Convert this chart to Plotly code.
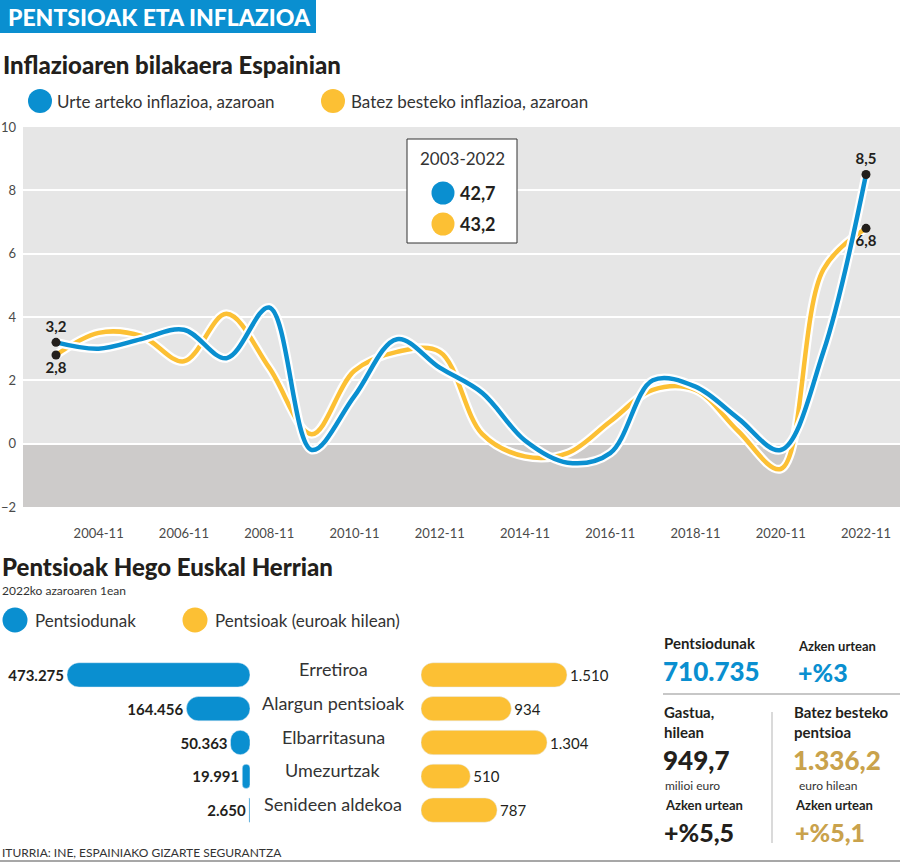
import plotly.graph_objects as go

W, H = 900, 862
BLUE = "#0a8fd0"
YELLOW = "#fcc034"
DARK = "#231f1c"
GOLD = "#c9a24c"
FONT = "Lato"

# ---------------- data ----------------
years = list(range(2003, 2023))
urte_arteko = [3.2, 3.0, 3.3, 3.6, 2.7, 4.3, -0.2, 1.5, 3.3, 2.4,
               1.6, 0.1, -0.6, -0.3, 2.0, 1.8, 0.8, -0.2, 2.9, 8.5]
batez_besteko = [2.8, 3.5, 3.4, 2.6, 4.1, 2.4, 0.3, 2.3, 2.9, 2.9,
                 0.3, -0.4, -0.3, 0.7, 1.7, 1.7, 0.4, -0.8, 5.5, 6.8]
tick_years = list(range(2004, 2023, 2))
tick_labels = [f"{y}-11" for y in tick_years]
inset_title = "2003-2022"
inset_values = ["42,7", "43,2"]

categories = ["Erretiroa", "Alargun pentsioak", "Elbarritasuna", "Umezurtzak", "Senideen aldekoa"]
pentsiodunak = [473275, 164456, 50363, 19991, 2650]
pentsiodunak_lbl = ["473.275", "164.456", "50.363", "19.991", "2.650"]
pentsioak = [1510, 934, 1304, 510, 787]
pentsioak_lbl = ["1.510", "934", "1.304", "510", "787"]


def px(x):
    return x / W


def py(y):
    return 1 - y / H


fig = go.Figure()

# ---------------- line chart ----------------
for ys, col in [(batez_besteko, YELLOW), (urte_arteko, BLUE)]:
    fig.add_trace(go.Scatter(x=years, y=ys, mode="lines", line=dict(color="white", width=9, shape="spline", smoothing=1.0),
                             hoverinfo="skip", showlegend=False))
    fig.add_trace(go.Scatter(x=years, y=ys, mode="lines", line=dict(color=col, width=4.5, shape="spline", smoothing=1.0),
                             showlegend=False))

# endpoint dots with labels
end_x = [years[0], years[0], years[-1], years[-1]]
end_y = [urte_arteko[0], batez_besteko[0], urte_arteko[-1], batez_besteko[-1]]
end_t = [f"{v:.1f}".replace(".", ",") for v in end_y]
end_pos = ["top center", "bottom center", "top center", "bottom center"]
fig.add_trace(go.Scatter(x=end_x, y=end_y, mode="markers+text", text=end_t, textposition=end_pos,
                         marker=dict(color=DARK, size=9), cliponaxis=False,
                         textfont=dict(family=FONT, size=15, color=DARK, weight="bold"), showlegend=False))

# axis dots below the plot
odd_years = [y for y in years if y % 2 == 1]
fig.add_trace(go.Scatter(x=odd_years, y=[-2.29] * len(odd_years), mode="markers", cliponaxis=False,
                         marker=dict(color="#a7a09e", size=9), showlegend=False))
fig.add_trace(go.Scatter(x=tick_years, y=[-2.29] * len(tick_years), mode="markers", cliponaxis=False,
                         marker=dict(color="white", size=9, line=dict(color="#a7a09e", width=1)), showlegend=False))

# ---------------- bars ----------------
bw = 0.72
rows = list(range(len(categories)))
zeros = [0] * len(rows)
# explicit base -> floating bars, rounded at both ends
fig.add_trace(go.Bar(y=rows, x=pentsiodunak, base=zeros, orientation="h", width=bw,
                     marker=dict(color=BLUE, cornerradius=12),
                     xaxis="x2", yaxis="y2", text=pentsiodunak_lbl, textposition="outside", cliponaxis=False,
                     constraintext="none", textfont=dict(family=FONT, size=15, color=DARK, weight="bold"),
                     showlegend=False))
fig.add_trace(go.Bar(y=rows, x=pentsioak, base=zeros, orientation="h", width=bw,
                     marker=dict(color=YELLOW, cornerradius=12),
                     xaxis="x3", yaxis="y3", text=pentsioak_lbl, textposition="outside", cliponaxis=False,
                     constraintext="none", textfont=dict(family=FONT, size=15, color=DARK),
                     showlegend=False))

# ---------------- layout ----------------
x_left = 2003 - (56 - 23) / 42.63
x_right = 2022 + (900 - 866) / 42.63
bar_top, bar_bot = 658, 827
blue_max = 250 / (183 / pentsiodunak[0])
yel_max = (900 - 421) / (146 / pentsioak[0])
nrow = len(categories)

fig.update_layout(
    width=W, height=H, margin=dict(l=0, r=0, t=0, b=0, autoexpand=False),
    paper_bgcolor="white", plot_bgcolor="rgba(0,0,0,0)",
    barmode="overlay", showlegend=False,
    font=dict(family=FONT, color=DARK),
    xaxis=dict(domain=[px(23), 1], range=[x_left, x_right], showgrid=False, zeroline=False,
               tickvals=tick_years, ticktext=tick_labels, ticks="", ticklabelstandoff=17,
               tickfont=dict(family=FONT, size=13, color="#4a4a4a"), fixedrange=True),
    yaxis=dict(domain=[py(507), py(127)], range=[-2, 10], dtick=2, showgrid=True, gridcolor="white", gridwidth=2,
               zeroline=False, ticks="", ticklabelstandoff=6,
               tickfont=dict(family=FONT, size=13, color="#4a4a4a"), fixedrange=True),
    xaxis2=dict(domain=[0, px(250)], range=[blue_max, 0], visible=False, anchor="y2"),
    yaxis2=dict(domain=[py(bar_bot), py(bar_top)], range=[nrow - 0.5, -0.5], visible=False, anchor="x2"),
    xaxis3=dict(domain=[px(421), 1], range=[0, yel_max], visible=False, anchor="y3"),
    yaxis3=dict(domain=[py(bar_bot), py(bar_top)], range=[nrow - 0.5, -0.5], visible=False, anchor="x3"),
)

shapes = []
# plot backgrounds
shapes.append(dict(type="rect", xref="x domain", yref="y", x0=0, x1=1, y0=0, y1=10, fillcolor="#e6e6e6",
                   line=dict(width=0), layer="below"))
shapes.append(dict(type="rect", xref="x domain", yref="y", x0=0, x1=1, y0=-2, y1=0, fillcolor="#cdcbca",
                   line=dict(width=0), layer="below"))
# banner
shapes.append(dict(type="rect", xref="paper", yref="paper", x0=0, x1=px(316), y0=py(33), y1=1,
                   fillcolor=BLUE, line=dict(width=0)))
# inset box
shapes.append(dict(type="rect", xref="paper", yref="paper", x0=px(407), x1=px(517), y0=py(243), y1=py(139),
                   fillcolor="white", line=dict(color="#333333", width=1)))


def circle(cx, cy, r, col):
    shapes.append(dict(type="circle", xref="paper", yref="paper", x0=px(cx - r), x1=px(cx + r),
                       y0=py(cy + r), y1=py(cy - r), fillcolor=col, line=dict(width=0)))


circle(443, 193, 11.5, BLUE)
circle(443, 224, 11.5, YELLOW)
circle(40, 101, 12, BLUE)
circle(333, 101, 12, YELLOW)
circle(15, 620, 12.5, BLUE)
circle(195, 620, 12.5, YELLOW)

# right panel lines
shapes.append(dict(type="line", xref="paper", yref="paper", x0=px(663), x1=1, y0=py(694), y1=py(694),
                   line=dict(color="#b5b5b5", width=1.5)))
shapes.append(dict(type="line", xref="paper", yref="paper", x0=px(772), x1=px(772), y0=py(712), y1=py(843),
                   line=dict(color="#b5b5b5", width=1)))
shapes.append(dict(type="line", xref="paper", yref="paper", x0=0, x1=1, y0=py(861), y1=py(861),
                   line=dict(color="#8a8a8a", width=1.5)))
fig.update_layout(shapes=shapes)

ann = []


def text(x, y, s, size, color=DARK, weight="normal", xanchor="left", yanchor="middle", family=FONT):
    ann.append(dict(xref="paper", yref="paper", x=px(x), y=py(y), text=s, showarrow=False,
                    xanchor=xanchor, yanchor=yanchor, align="left",
                    font=dict(family=family, size=size, color=color, weight=weight)))


text(6, 17, "PENTSIOAK ETA INFLAZIOA", 23, "white", 900)
text(1, 64, "Inflazioaren bilakaera Espainian", 24, DARK, 900)
text(55, 101, "Urte arteko inflazioa, azaroan", 17, "#333")
text(349, 101, "Batez besteko inflazioa, azaroan", 17, "#333")
text(462, 158, inset_title, 17, "#333", xanchor="center")
text(458, 193, inset_values[0], 18, DARK, "bold")
text(458, 224, inset_values[1], 18, DARK, "bold")

text(0, 566, "Pentsioak Hego Euskal Herrian", 24, DARK, 900)
text(0, 590, "2022ko azaroaren 1ean", 12, "#333")
text(33, 620, "Pentsiodunak", 17, "#333")
text(213, 620, "Pentsioak (euroak hilean)", 17, "#333")

for i, c in enumerate(categories):
    ann.append(dict(xref="paper", yref="y2", x=px(333), y=i, yshift=6, text=c, showarrow=False,
                    xanchor="center", yanchor="middle", font=dict(family=FONT, size=18, color="#333")))

text(662, 643, "Pentsiodunak", 15, DARK, "bold")
text(661, 671, "710.735", 26, BLUE, 900)
text(796, 646, "Azken urtean", 13, DARK, "bold")
text(796, 672, "+%3", 25, BLUE, 900)
text(662, 722, "Gastua,<br>hilean", 15, DARK, "bold")
text(661, 760, "949,7", 26, DARK, 900)
text(663, 785, "milioi euro", 12, "#333")
text(663, 805, "Azken urtean", 13, DARK, "bold")
text(662, 832, "+%5,5", 25, DARK, 900)
text(792, 722, "Batez besteko<br>pentsioa", 15, DARK, "bold")
text(791, 760, "1.336,2", 26, GOLD, 900)
text(797, 785, "euro hilean", 12, "#333")
text(793, 805, "Azken urtean", 13, DARK, "bold")
text(793, 832, "+%5,1", 25, GOLD, 900)
text(0, 852, "ITURRIA: INE, ESPAINIAKO GIZARTE SEGURANTZA", 12, "#333")

fig.update_layout(annotations=ann)
fig.write_html("out.html", config={"displayModeBar": False},
               post_script="document.body.style.margin='0px';")
